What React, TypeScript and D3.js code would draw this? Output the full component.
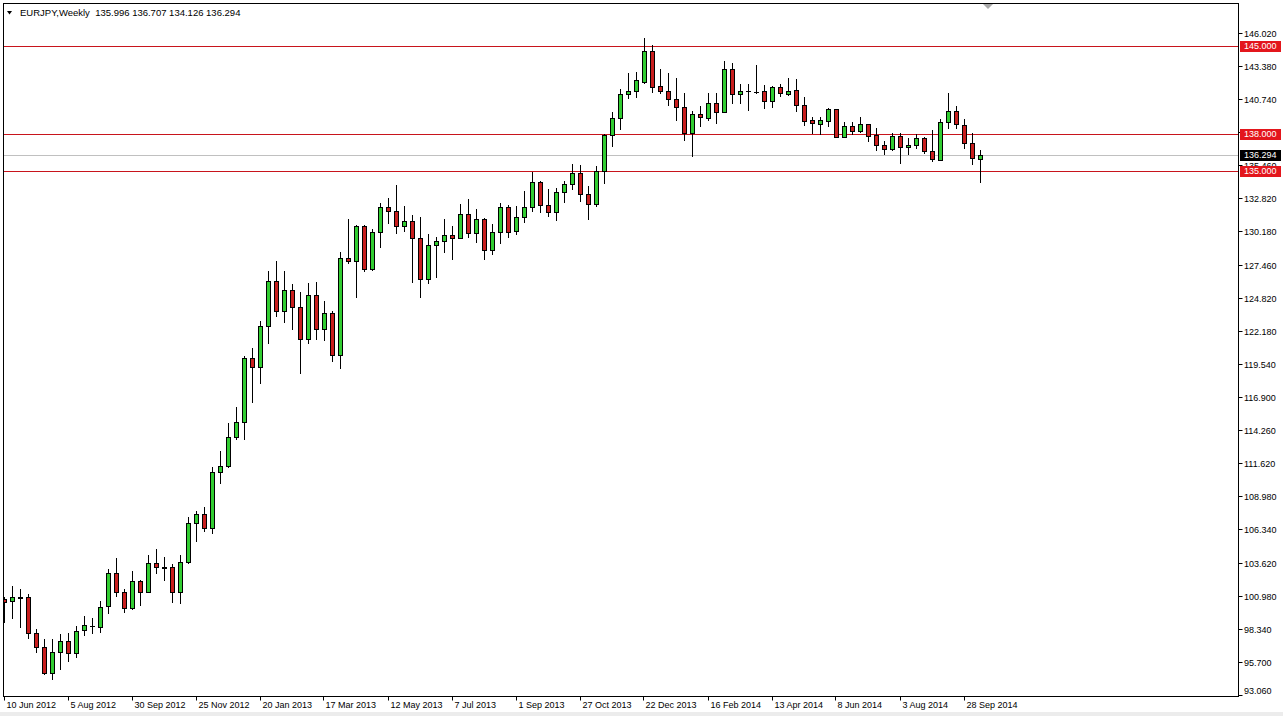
import * as d3 from "d3";

// weekly EURJPY, 10 Jun 2012 .. Oct 2014, one entry per bar
const opens = [
  100.74, 100.58, 100.9, 100.9, 98.02, 96.94, 94.86, 96.54, 97.38, 96.42,
  98.28, 98.64, 98.54, 100.2, 102.82, 101.34, 100.02, 102.2, 101.34, 103.62,
  103.3, 103.3, 101.3, 103.7, 106.82, 107.54, 106.42, 110.9, 111.4, 113.74,
  114.9, 120.02, 119.35, 122.6, 126.2, 123.82, 125.48, 124.14, 121.54, 125.08,
  122.34, 123.62, 120.28, 128.02, 127.8, 130.6, 127.16, 130.12, 132.1, 131.82,
  130.6, 131.0, 129.62, 126.34, 129.08, 129.4, 129.86, 129.66, 131.56, 130.02,
  131.14, 128.68, 130.1, 132.1, 130.2, 131.3, 132.14, 134.1, 132.28, 131.74,
  133.34, 133.96, 134.82, 133.14, 132.34, 135.02, 137.88, 139.22, 141.14, 141.42,
  142.14, 144.62, 141.8, 141.42, 140.74, 140.14, 138.02, 139.54, 139.26, 140.42,
  139.74, 143.14, 141.14, 141.4, 141.34, 141.4, 140.62, 141.7, 141.16, 141.48,
  140.28, 139.08, 138.74, 139.02, 139.94, 137.74, 138.62, 138.22, 138.74, 137.88,
  137.08, 136.74, 137.8, 136.9, 137.08, 137.62, 136.62, 135.88, 138.9, 139.82,
  138.68, 137.22, 135.996,
];
const highs = [
  100.92, 101.8, 101.56, 101.16, 98.36, 97.56, 97.56, 97.96, 98.04, 98.6,
  99.4, 99.24, 100.6, 103.16, 104.04, 101.56, 103.0, 102.28, 104.28, 104.76,
  104.12, 103.56, 104.28, 107.32, 107.8, 108.12, 111.32, 112.6, 114.84, 116.12,
  120.2, 120.84, 123.0, 127.0, 127.82, 127.0, 125.96, 125.32, 126.04, 126.12,
  124.6, 123.8, 128.54, 131.14, 130.68, 130.68, 130.4, 132.46, 132.82, 133.88,
  132.2, 131.48, 131.3, 129.96, 129.7, 131.16, 130.62, 132.34, 132.76, 131.94,
  131.22, 130.76, 132.46, 132.28, 132.2, 133.4, 134.94, 134.2, 133.54, 133.62,
  134.22, 135.56, 135.48, 133.8, 135.4, 137.94, 139.74, 141.54, 142.82, 142.9,
  145.62, 145.08, 143.14, 142.86, 142.42, 141.22, 139.8, 140.2, 141.26, 141.26,
  143.8, 143.66, 141.94, 141.94, 143.48, 141.88, 141.82, 141.96, 142.42, 142.36,
  140.9, 139.3, 139.34, 140.06, 139.96, 138.9, 138.9, 139.3, 138.76, 138.42,
  137.4, 138.02, 138.02, 137.62, 137.96, 137.74, 138.28, 139.14, 141.26, 140.2,
  139.14, 138.02, 136.707,
];
const lows = [
  98.92, 99.24, 98.52, 97.64, 96.52, 94.8, 94.36, 95.16, 95.8, 96.12,
  97.88, 98.04, 98.12, 99.64, 101.0, 99.72, 99.98, 100.28, 101.32, 102.84,
  102.28, 100.52, 100.44, 103.66, 105.4, 106.2, 106.04, 110.04, 111.32, 113.56,
  113.56, 116.55, 118.04, 121.24, 123.42, 122.94, 122.36, 118.84, 121.24, 121.56,
  121.48, 119.82, 119.22, 127.62, 124.94, 127.02, 127.12, 128.94, 130.86, 130.02,
  130.2, 126.14, 124.94, 126.06, 126.54, 128.54, 127.96, 129.62, 129.74, 129.34,
  127.96, 128.34, 129.26, 129.72, 129.96, 130.94, 131.82, 131.74, 131.42, 131.08,
  132.54, 133.54, 132.62, 131.16, 132.22, 134.06, 137.02, 138.36, 140.86, 140.94,
  142.02, 141.34, 141.22, 140.28, 139.08, 137.48, 136.2, 138.6, 139.08, 138.82,
  139.7, 140.42, 140.42, 139.88, 141.26, 140.06, 140.14, 141.0, 141.08, 139.82,
  138.68, 138.06, 137.96, 138.62, 137.7, 137.7, 137.96, 138.1, 137.42, 136.68,
  136.36, 136.72, 135.66, 136.36, 136.82, 136.42, 135.82, 135.86, 138.42, 138.42,
  136.86, 135.54, 134.126,
];
const closes = [
  100.54, 100.9, 100.88, 98.02, 96.94, 94.86, 96.54, 97.38, 96.42, 98.22,
  98.66, 98.62, 100.14, 102.82, 101.3, 100.02, 102.2, 101.34, 103.62, 103.3,
  103.28, 101.3, 103.7, 106.82, 107.54, 106.42, 110.9, 111.4, 113.74, 114.9,
  120.02, 119.35, 122.6, 126.2, 123.82, 125.48, 124.14, 121.54, 125.08, 122.34,
  123.62, 120.28, 128.02, 127.8, 130.6, 127.16, 130.12, 132.1, 131.82, 130.6,
  131.0, 129.62, 126.34, 129.08, 129.4, 129.86, 129.66, 131.56, 130.02, 131.14,
  128.68, 130.1, 132.1, 130.12, 131.3, 132.14, 134.1, 132.28, 131.74, 133.34,
  133.96, 134.82, 133.14, 132.34, 135.02, 137.88, 139.22, 141.14, 141.4, 142.28,
  144.62, 141.74, 141.42, 140.74, 140.14, 138.02, 139.54, 139.3, 140.42, 139.74,
  143.14, 141.14, 141.4, 141.38, 141.32, 140.62, 141.7, 141.22, 141.4, 140.28,
  139.02, 138.82, 139.08, 139.94, 137.74, 138.62, 138.22, 138.74, 137.82, 137.08,
  136.74, 137.8, 136.9, 137.08, 137.62, 136.62, 135.94, 138.9, 139.82, 138.76,
  137.22, 136.02, 136.294,
];

const dateLabels = [
  "10 Jun 2012", "5 Aug 2012", "30 Sep 2012", "25 Nov 2012", "20 Jan 2013",
  "17 Mar 2013", "12 May 2013", "7 Jul 2013", "1 Sep 2013", "27 Oct 2013",
  "22 Dec 2013", "16 Feb 2014", "13 Apr 2014", "8 Jun 2014", "3 Aug 2014",
  "28 Sep 2014",
];
const priceLabels = [
  "146.020", "143.380", "140.740", "138.100", "135.460", "132.820", "130.180",
  "127.460", "124.820", "122.180", "119.540", "116.900", "114.260", "111.620",
  "108.980", "106.340", "103.620", "100.980", "98.340", "95.700", "93.060",
];
const levels = [145, 138, 135];
const lastPrice = 136.294;

const W = 1283;
const H = 716;
const left = 3.5;
const right = 1238.5;
const top = 3.5;
const bottom = 696.5;
const font = "'Liberation Sans', Arial, sans-serif";

export default function App() {
  const n = opens.length;
  const x = d3.scaleLinear().domain([0, n - 1]).range([4.5, 4.5 + 8 * (n - 1)]);
  const y = d3.scaleLinear().domain([93, 148.36]).range([696, 4]);
  const py = (v: number) => Math.round(y(v)) + 0.5;

  const candles = d3.range(n).map((i) => {
    const o = opens[i];
    const c = closes[i];
    const cx = x(i);
    const yTop = Math.round(y(Math.max(o, c)));
    const yBot = Math.round(y(Math.min(o, c)));
    const up = c >= o;
    return (
      <g key={i}>
        <line x1={cx} x2={cx} y1={Math.round(y(highs[i]))} y2={Math.round(y(lows[i])) + 1} stroke="#000" />
        {yBot - yTop < 1 ? (
          <line x1={cx - 2.5} x2={cx + 2.5} y1={yTop + 0.5} y2={yTop + 0.5} stroke="#000" />
        ) : (
          <rect
            x={cx - 2}
            y={yTop + 0.5}
            width={4}
            height={yBot - yTop}
            fill={up ? "#32cd32" : "#c81e1e"}
            stroke="#000"
          />
        )}
      </g>
    );
  });

  return (
    <svg
      width={W}
      height={H}
      style={{ position: "absolute", left: 0, top: 0, display: "block", background: "#fff" }}
      fontFamily={font}
    >
      <defs>
        <clipPath id="plot">
          <rect x={left} y={top} width={right - left} height={bottom - top} />
        </clipPath>
      </defs>
      <rect x={0} y={712} width={W} height={4} fill="#ececec" />

      {/* y axis ticks and labels */}
      {priceLabels.map((s) => {
        const v = parseFloat(s);
        const yy = py(v);
        const ty = Math.min(y(v), 691);
        return (
          <g key={s}>
            <line x1={right} x2={right + 4} y1={yy} y2={yy} stroke="#000" />
            <text x={1244} y={ty + 3.3} fontSize={9} fill="#000">
              {s}
            </text>
          </g>
        );
      })}

      {/* x axis ticks and labels */}
      {dateLabels.map((s, k) => {
        const xx = Math.round(x(k * 8)) - 0.5;
        return (
          <g key={s}>
            <line x1={xx} x2={xx} y1={bottom} y2={bottom + 4} stroke="#000" />
            <text x={xx + 2} y={708} fontSize={9} fill="#000">
              {s}
            </text>
          </g>
        );
      })}

      <g clipPath="url(#plot)">
        <line x1={left} x2={right} y1={py(lastPrice)} y2={py(lastPrice)} stroke="#c0c0c0" />
        {levels.map((v) => (
          <line key={v} x1={left} x2={right} y1={py(v)} y2={py(v)} stroke="#c8141c" />
        ))}
        {candles}
      </g>

      {/* level price boxes */}
      {levels.map((v) => (
        <g key={v}>
          <rect x={1240} y={Math.round(y(v)) - 5} width={41} height={11} fill="#e3161c" />
          <text x={1244} y={y(v) + 3.3} fontSize={9} fill="#fff">
            {v.toFixed(3)}
          </text>
        </g>
      ))}
      <rect x={1240} y={Math.round(y(lastPrice)) - 5} width={41} height={11} fill="#000" />
      <text x={1244} y={y(lastPrice) + 3.3} fontSize={9} fill="#fff">
        {lastPrice.toFixed(3)}
      </text>

      <rect x={left} y={top} width={right - left} height={bottom - top} fill="none" stroke="#000" />
      <polygon points="983,4 993,4 988,9" fill="#a8a8a8" />

      {/* header */}
      <polygon points="7,11 12,11 9.5,14.5" fill="#000" />
      <text x={20} y={16} fontSize={9.5} fill="#000" style={{ whiteSpace: "pre" }}>
        {`EURJPY,Weekly  ${opens[n - 1].toFixed(3)} ${highs[n - 1].toFixed(3)} ${lows[n - 1].toFixed(3)} ${closes[n - 1].toFixed(3)}`}
      </text>
    </svg>
  );
}
